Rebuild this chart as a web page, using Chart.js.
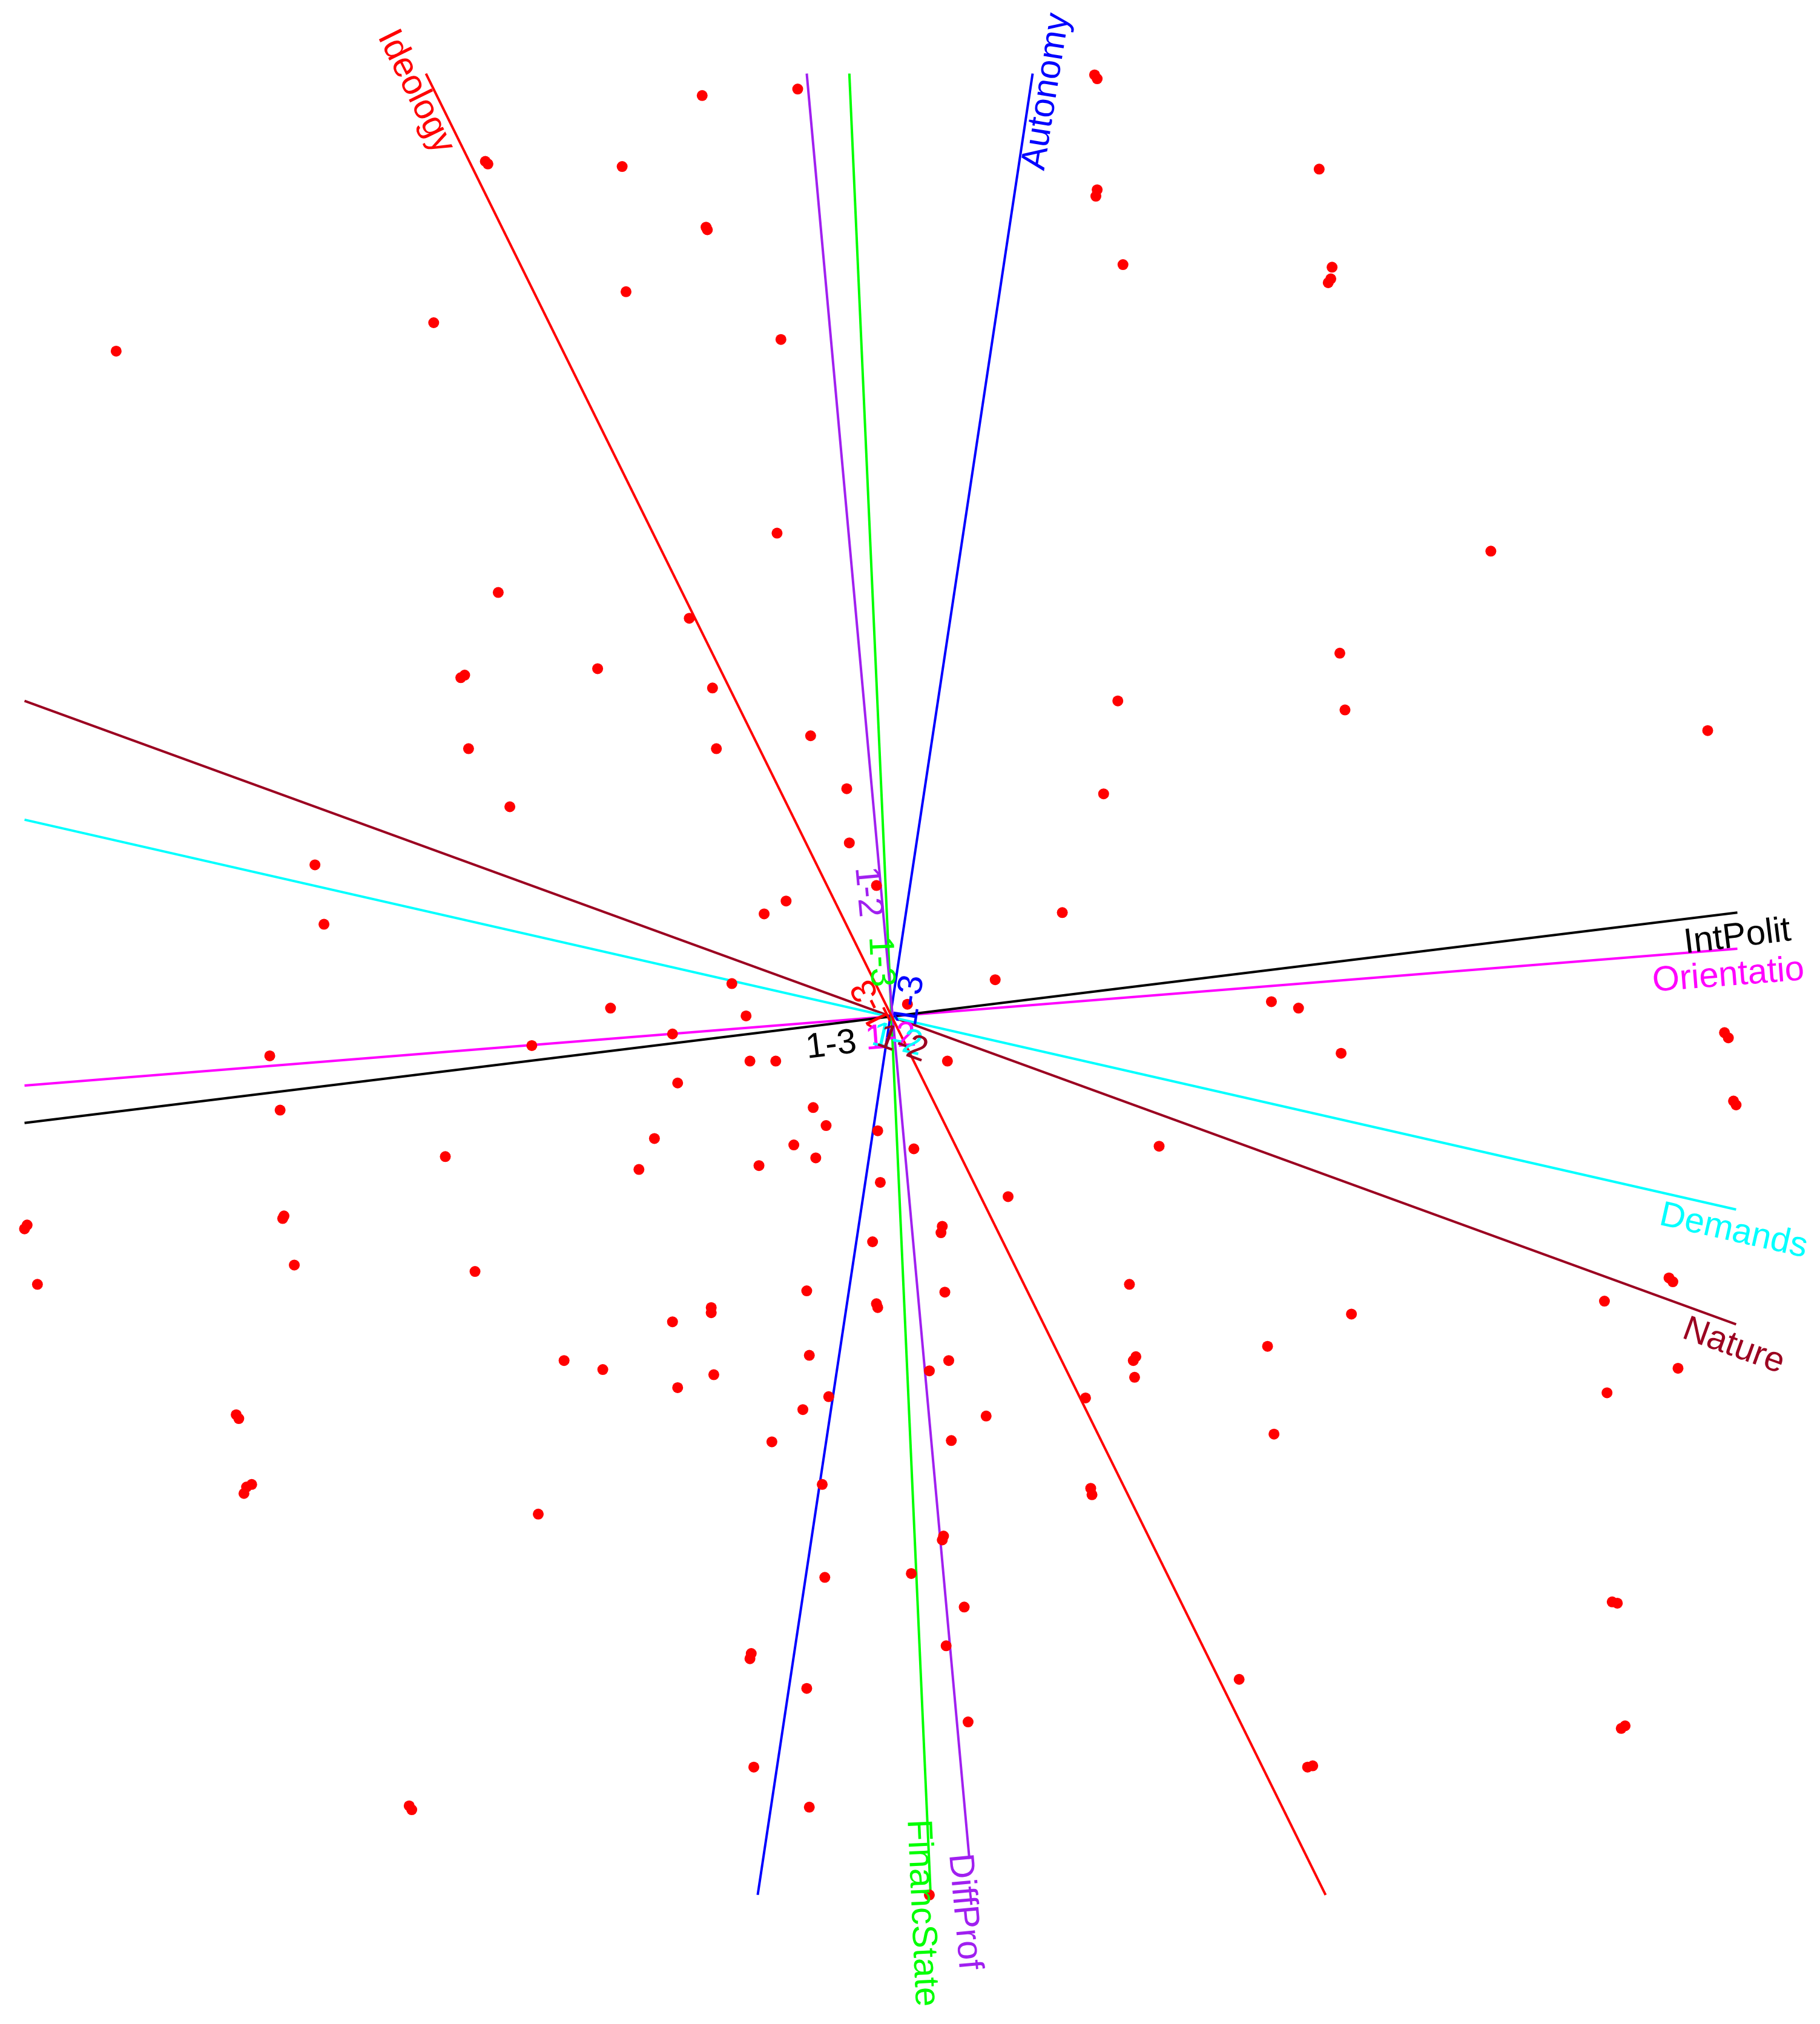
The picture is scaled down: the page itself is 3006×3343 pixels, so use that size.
<!DOCTYPE html>
<html>
<head>
<meta charset="utf-8">
<script src="https://cdn.jsdelivr.net/npm/chart.js@4.4.1/dist/chart.umd.min.js"></script>
<style>
html,body{margin:0;padding:0;background:#fff;}
#wrap{width:3006px;height:3343px;}
</style>
</head>
<body>
<div id="wrap"><canvas id="c" width="3006" height="3343"></canvas></div>
<script>
// ---- Data (biplot coordinates, plot units; y grows downward) ----
const scoreX = [848,850,544,618,376,378,482,850,849,1022,547,548,870,1032,1029,1031,485,336,90,605,
  602,1155,386,534,1038,463,360,357,552,866,1042,1323,628,363,555,855,656,395,658,244,
  679,609,592,823,251,771,567,703,985,1006,473,578,521,412,1336,1339,209,1039,581,601,
  734,525,1343,1345,217,630,640,680,507,615,708,898,345,632,588,495,682,781,220,219,
  21,19,730,729,676,228,368,1293,1296,29,875,625,732,1243,679,680,551,551,1047,521,
  982,627,437,880,878,735,467,553,720,1300,879,525,1245,642,841,622,183,185,764,987,
  598,737,637,191,195,189,845,846,417,731,730,706,639,747,1249,1253,733,582,581,960,
  625,750,1259,1256,584,1013,1017,317,319,627,720];
const scoreY = [58,61,74,69,125,127,129,147,152,131,176,178,205,207,219,216,226,250,272,263,
  413,427,459,479,506,518,523,525,533,543,550,566,570,580,580,615,611,625,653,670,
  686,698,708,707,716,759,762,778,776,781,781,787,801,810,800,804,818,816,822,822,
  822,839,853,856,860,858,872,876,882,887,890,888,896,897,903,906,916,927,942,944,
  949,952,950,955,962,980,985,990,993,995,995,1000,1001,1008,1010,1013,1013,1017,1018,1024,
  1043,1050,1054,1051,1054,1054,1061,1065,1062,1060,1067,1075,1079,1082,1083,1092,1096,1099,1097,1111,
  1117,1116,1150,1152,1150,1157,1153,1158,1173,1190,1193,1219,1222,1245,1241,1242,1275,1281,1285,1301,
  1308,1334,1337,1339,1369,1369,1368,1399,1402,1400,1468];

// Variable axes: names and end points
const axisNames  = ["Ideology","DiffProf","FinancState","Autonomy","IntPolit","Orientatio","Demands","Nature"];
const axisStartX = [330, 625, 658, 800, 19, 19, 19, 19];
const axisStartY = [57, 57, 57, 57, 870, 841, 635, 543];
const axisEndX   = [1027, 751, 721, 587, 1346, 1346, 1345, 1345];
const axisEndY   = [1468, 1440, 1468, 1468, 707, 735, 937, 1026];
const axisColors = ["#FF0000","#A020F0","#00FF00","#0000FF","#000000","#FF00FF","#00FFFF","#9B0020"];

// Axis text labels (name + level labels near the centre)
const labelText  = ["Ideology","Autonomy","IntPolit","Orientatio","Demands","Nature","FinancState","DiffProf",
                    "1-2","1-3","1-3","1-3","1-3","1-2","1-2","1-2"];
const labelColor = ["#FF0000","#0000FF","#000000","#FF00FF","#00FFFF","#9B0020","#00FF00","#A020F0",
                    "#A020F0","#00FF00","#FF0000","#0000FF","#000000","#FF00FF","#00FFFF","#9B0020"];
const labelX     = [322, 811, 1346, 1339, 1343, 1343, 714, 747, 672, 682, 676, 705, 644, 690, 695, 699];
const labelY     = [71, 71, 726, 756, 954, 1043, 1482, 1481, 691, 745, 778, 775, 810, 804, 806, 809];
const labelAngle = [63.7, -80.9, -7.0, -4.5, 12.7, 20.0, 87.4, 84.8, 84.8, 87.4, 243.7, -81.4, -7.0, -4.5, 12.7, 20.0];

const datasets = [{
  label: "scores",
  data: scoreX.map((x, i) => ({x: x, y: scoreY[i]})),
  backgroundColor: "#FF0000",
  borderColor: "#FF0000",
  pointRadius: 9,
  pointBorderWidth: 0,
  showLine: false,
  order: 0
}];
axisNames.forEach((n, i) => {
  datasets.push({
    label: n,
    data: [{x: axisStartX[i], y: axisStartY[i]}, {x: axisEndX[i], y: axisEndY[i]}],
    borderColor: axisColors[i],
    backgroundColor: axisColors[i],
    borderWidth: 4,
    pointRadius: 0,
    showLine: true,
    fill: false,
    order: 1
  });
});

const labelPlugin = {
  id: "axisLabels",
  afterDatasetsDraw(chart) {
    const ctx = chart.ctx;
    const xs = chart.scales.x, ys = chart.scales.y;
    ctx.save();
    ctx.font = "58px 'Liberation Sans', Arial, sans-serif";
    ctx.textAlign = "center";
    ctx.textBaseline = "middle";
    labelText.forEach((t, i) => {
      ctx.save();
      ctx.translate(xs.getPixelForValue(labelX[i]), ys.getPixelForValue(labelY[i]));
      ctx.rotate(labelAngle[i] * Math.PI / 180);
      ctx.fillStyle = labelColor[i];
      ctx.fillText(t, 0, 0);
      ctx.restore();
    });
    ctx.restore();
  }
};

new Chart(document.getElementById("c"), {
  type: "scatter",
  data: {datasets: datasets},
  options: {
    responsive: false,
    animation: false,
    devicePixelRatio: 1,
    layout: {padding: 0, autoPadding: false},
    plugins: {legend: {display: false}, tooltip: {enabled: false}},
    elements: {line: {tension: 0}},
    scales: {
      x: {type: "linear", min: 0, max: 1410, display: false},
      y: {type: "linear", min: 0, max: 1568, reverse: true, display: false}
    }
  },
  plugins: [labelPlugin]
});
</script>
</body>
</html>
